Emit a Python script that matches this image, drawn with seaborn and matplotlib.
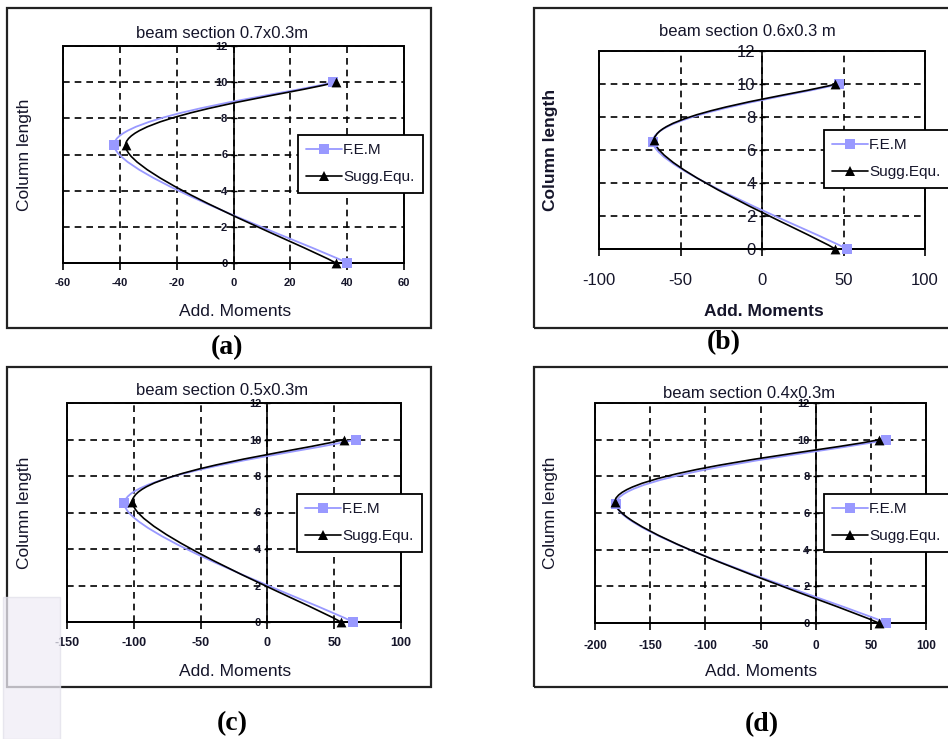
import matplotlib
matplotlib.use("Agg")
import matplotlib.pyplot as plt
import seaborn as sns
import numpy as np
from matplotlib.path import Path
from matplotlib.patches import PathPatch, Rectangle
from matplotlib.lines import Line2D

# ---------------- data ----------------
col_length_fem = [0, 6.5, 10]
col_length_sug = [0, 6.5, 10]

a_fem = [40, -42, 35]
a_sug = [36, -38, 36]
a_sug_y = [0, 6.5, 10]

b_fem = [52, -67, 47]
b_sug = [45, -66, 45]
b_sug_y = [0, 6.6, 10]

c_fem = [64, -107, 66]
c_sug = [55, -101, 57]
c_sug_y = [0, 6.6, 10]

d_fem = [64, -181, 64]
d_sug = [57, -182, 57]
d_sug_y = [0, 6.6, 10]

titles = ["beam section 0.7x0.3m", "beam section 0.6x0.3 m",
          "beam section 0.5x0.3m", "beam section 0.4x0.3m"]
captions = ["(a)", "(b)", "(c)", "(d)"]
legend_labels = ["F.E.M", "Sugg.Equ."]
x_label = "Add. Moments"
y_label = "Column length"
y_ticks = [0, 2, 4, 6, 8, 10, 12]
a_xticks = [-60, -40, -20, 0, 20, 40, 60]
b_xticks = [-100, -50, 0, 50, 100]
c_xticks = [-150, -100, -50, 0, 50, 100]
d_xticks = [-200, -150, -100, -50, 0, 50, 100]

FEM_C = "#9999ff"
TXT = "#15152a"

sns.set_style("white")
plt.rcParams["font.family"] = ["Liberation Sans", "DejaVu Sans"]
plt.rcParams["axes.unicode_minus"] = False

W, H = 948, 739
fig = plt.figure(figsize=(W / 100, H / 100), dpi=100)


def fx(x):
    return x / W


def fy(y):
    return 1 - y / H


def smooth_path(xs, ys):
    P = np.column_stack([xs, ys]).astype(float)
    n = len(P)
    T = []
    for i in range(n):
        prev = P[max(i - 1, 0)]
        nxt = P[min(i + 1, n - 1)]
        T.append((nxt - prev) / 6.0)
    verts = [P[0]]
    codes = [Path.MOVETO]
    for i in range(n - 1):
        verts += [P[i] + T[i], P[i + 1] - T[i + 1], P[i + 1]]
        codes += [Path.CURVE4] * 3
    return Path(verts, codes)


panels = [
    dict(px=(63, 404, 46, 263), box=(7, 431, 8, 328), fem=a_fem, sug=a_sug, sug_y=a_sug_y,
         xticks=a_xticks, tfs=8, yfs=8, tw="bold", xpad=6,
         title_xy=(222, 34), xl_xy=(235, 312), yl_xy=(25, 155), lbw="normal",
         cap_xy=(227, 348), leg=(298, 135)),
    dict(px=(599, 925, 51, 249), box=(534, 990, 8, 328), fem=b_fem, sug=b_sug, sug_y=b_sug_y,
         xticks=b_xticks, tfs=12, yfs=12, tw="normal", xpad=12,
         title_xy=(747, 32), xl_xy=(764, 312), yl_xy=(550, 150), lbw="bold",
         cap_xy=(724, 343), leg=(824, 130)),
    dict(px=(67, 401, 403, 622), box=(7, 431, 367, 687), fem=c_fem, sug=c_sug, sug_y=c_sug_y,
         xticks=c_xticks, tfs=9, yfs=8, tw="bold", xpad=6,
         title_xy=(222, 391), xl_xy=(235, 672), yl_xy=(25, 513), lbw="normal",
         cap_xy=(232, 724), leg=(297, 494)),
    dict(px=(595, 926, 403, 623), box=(534, 990, 367, 687), fem=d_fem, sug=d_sug, sug_y=d_sug_y,
         xticks=d_xticks, tfs=8.5, yfs=8, tw="bold", xpad=7,
         title_xy=(749, 393), xl_xy=(761, 672), yl_xy=(550, 513), lbw="normal",
         cap_xy=(762, 725), leg=(824, 494)),
]

for i, p in enumerate(panels):
    # chart-area box
    bx0, bx1, by0, by1 = p["box"]
    fig.patches.append(Rectangle((fx(bx0), fy(by1)), fx(bx1 - bx0), (by1 - by0) / H,
                                 transform=fig.transFigure, fill=False,
                                 edgecolor="#222222", linewidth=1.6, zorder=0))
    x0, x1, y0, y1 = p["px"]
    ax = fig.add_axes([fx(x0), fy(y1), fx(x1 - x0), (y1 - y0) / H])
    ax.set_facecolor("white")
    ax.set_xlim(p["xticks"][0], p["xticks"][-1])
    ax.set_ylim(0, 12)
    ax.set_xticks(p["xticks"])
    ax.set_yticks(y_ticks)
    ax.grid(True, color="black", linestyle=(0, (4, 3)), linewidth=1.2, zorder=1)
    ax.set_axisbelow(True)
    for s in ["top", "right"]:
        ax.spines[s].set_visible(False)
    ax.spines["left"].set_position(("data", 0))
    ax.spines["left"].set_linewidth(1.2)
    ax.spines["left"].set_color("black")
    ax.spines["bottom"].set_linewidth(1.4)
    ax.spines["bottom"].set_color("black")
    ax.add_patch(Rectangle((0, 0), 1, 1, transform=ax.transAxes, fill=False,
                           edgecolor="black", linewidth=1.4, zorder=2, clip_on=False))
    ax.tick_params(axis="x", direction="out", length=5, width=1.2, color="black",
                   pad=p["xpad"], labelsize=p["tfs"], labelcolor=TXT, bottom=True)
    ax.tick_params(axis="y", direction="inout", length=5, width=1.0, color="black",
                   pad=2, labelsize=p["yfs"], labelcolor=TXT, left=True)
    for lab in ax.get_xticklabels() + ax.get_yticklabels():
        lab.set_fontweight(p["tw"])

    # smoothed lines (Excel-style smoothing through the data points)
    ax.add_patch(PathPatch(smooth_path(p["fem"], col_length_fem), fill=False,
                           edgecolor=FEM_C, linewidth=1.3, zorder=3))
    ax.add_patch(PathPatch(smooth_path(p["sug"], p["sug_y"]), fill=False,
                           edgecolor="black", linewidth=1.2, zorder=4))
    sns.scatterplot(x=p["fem"], y=col_length_fem, ax=ax, marker="s", color=FEM_C,
                    s=45, linewidth=0, zorder=5, clip_on=False)
    sns.scatterplot(x=p["sug"], y=p["sug_y"], ax=ax, marker="^", color="black",
                    s=50, linewidth=0, zorder=6, clip_on=False)
    ax.set_xlabel("")
    ax.set_ylabel("")

    # texts
    fig.text(fx(p["title_xy"][0]), fy(p["title_xy"][1]), titles[i], ha="center",
             va="center", fontsize=12, color=TXT, zorder=10)
    fig.text(fx(p["xl_xy"][0]), fy(p["xl_xy"][1]), x_label, ha="center", va="center",
             fontsize=12.5, color=TXT, fontweight=p["lbw"])
    fig.text(fx(p["yl_xy"][0]), fy(p["yl_xy"][1]), y_label, ha="center", va="center",
             rotation=90, fontsize=12.5, color=TXT, fontweight=p["lbw"])
    fig.text(fx(p["cap_xy"][0]), fy(p["cap_xy"][1]), captions[i], ha="center",
             va="center", fontsize=20, fontweight="bold",
             family=["Liberation Serif", "DejaVu Serif"], color="black")

    handles = [Line2D([], [], color=FEM_C, marker="s", markersize=7, lw=1.3,
                      markeredgewidth=0),
               Line2D([], [], color="black", marker="^", markersize=7, lw=1.2,
                      markeredgewidth=0)]
    leg = ax.legend(handles, legend_labels, loc="upper left",
                    bbox_to_anchor=(fx(p["leg"][0]), fy(p["leg"][1])),
                    bbox_transform=fig.transFigure, frameon=True, fancybox=False,
                    edgecolor="black", framealpha=1, fontsize=11, handlelength=2.3,
                    handletextpad=0.1, borderpad=0.55, labelspacing=0.85,
                    borderaxespad=0)
    leg.get_frame().set_linewidth(1.3)
    for t in leg.get_texts():
        t.set_color(TXT)
    leg.set_zorder(20)

# faint screenshot overlay at the lower-left corner
fig.patches.append(Rectangle((fx(3), 0), fx(57), (739 - 597) / H,
                             transform=fig.transFigure, facecolor="#efedf6",
                             edgecolor="#e2e0ea", alpha=0.75, zorder=30))

fig.savefig("out.png", dpi=100)
